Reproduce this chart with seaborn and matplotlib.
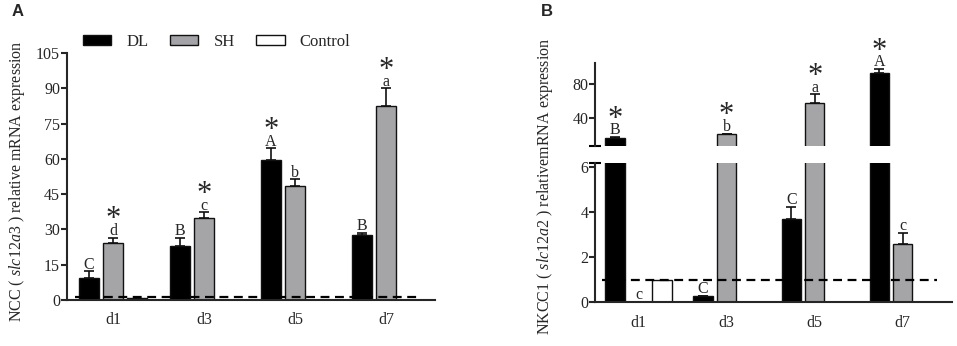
import numpy as np
import pandas as pd
import matplotlib
matplotlib.use("Agg")
import matplotlib.pyplot as plt
from matplotlib.patches import Patch
import seaborn as sns

# categories / groups
days = ["d1", "d3", "d5", "d7"]
groups = ["DL", "SH", "Control"]
colors = {"DL": "#000000", "SH": "#a4a4a8", "Control": "#ffffff"}

# panel A: NCC (slc12a3)
ncc_dl = [9.3, 23.1, 59.7, 27.5]
ncc_dl_err = [2.9, 3.4, 4.7, 0.9]
ncc_sh = [24.4, 34.9, 48.5, 82.3]
ncc_sh_err = [2.1, 2.3, 2.8, 7.6]
ncc_ctrl = 1.0
ncc_dl_letters = ["C", "B", "A", "B"]
ncc_sh_letters = ["d", "c", "b", "a"]
ncc_dl_star = [False, False, True, False]
ncc_sh_star = [True, True, False, True]
ncc_ticks = [0, 15, 30, 45, 60, 75, 90, 105]

# panel B: NKCC1 (slc12a2)
nkcc_dl = [17.3, 0.25, 3.69, 93.7]
nkcc_dl_err = [0.5, 0.03, 0.56, 3.9]
nkcc_sh = [0.02, 21.2, 57.6, 2.61]
nkcc_sh_err = [0.0, 0.6, 10.6, 0.48]
nkcc_ctrl = 1.0
nkcc_dl_letters = ["B", "C", "C", "A"]
nkcc_sh_letters = ["c", "b", "a", "c"]
nkcc_dl_star = [True, False, False, True]
nkcc_sh_star = [False, True, True, False]
nkcc_ticks_low = [0, 2, 4, 6]
nkcc_ticks_high = [40, 80]


def make_df(dl, dle, dlt, dls, sh, she, sht, shs, ctrl):
    rows = []
    for i, d in enumerate(days):
        rows.append([d, "DL", dl[i], dle[i], dlt[i], dls[i]])
        rows.append([d, "SH", sh[i], she[i], sht[i], shs[i]])
    rows.append(["d1", "Control", ctrl, 0.0, "", False])
    return pd.DataFrame(rows, columns=["day", "group", "value", "err", "letter", "star"])


df_a = make_df(ncc_dl, ncc_dl_err, ncc_dl_letters, ncc_dl_star,
               ncc_sh, ncc_sh_err, ncc_sh_letters, ncc_sh_star, ncc_ctrl)
df_b = make_df(nkcc_dl, nkcc_dl_err, nkcc_dl_letters, nkcc_dl_star,
               nkcc_sh, nkcc_sh_err, nkcc_sh_letters, nkcc_sh_star, nkcc_ctrl)

sns.set_style("ticks")
plt.rcParams["font.family"] = ["Liberation Serif", "DejaVu Serif"]
plt.rcParams["mathtext.fontset"] = "custom"
plt.rcParams["mathtext.rm"] = "Liberation Serif"
plt.rcParams["mathtext.it"] = "Liberation Serif:italic"

fig = plt.figure(figsize=(9.57, 3.46), dpi=100)
ax_a = fig.add_axes([0.070, 0.133, 0.385, 0.714])
ax_bt = fig.add_axes([0.622, 0.578, 0.373, 0.240])
ax_bb = fig.add_axes([0.622, 0.127, 0.373, 0.402])


def draw_bars(ax, df):
    sns.barplot(data=df, x="day", y="value", hue="group", order=days,
                hue_order=groups, palette=colors, edgecolor="#111111",
                linewidth=1.0, gap=0.18, errorbar=None, legend=False, ax=ax)
    info = []
    for p in ax.patches:
        xc = p.get_x() + p.get_width() / 2
        h = p.get_height()
        cat = days[int(round(xc))]
        row = df[(df["day"] == cat) & np.isclose(df["value"], h)].iloc[0]
        info.append((xc, h, row))
        if row["err"] > 0:
            ax.errorbar(xc, h, yerr=[[0], [row["err"]]], fmt="none",
                        ecolor="#111111", elinewidth=1.2, capsize=3.5,
                        capthick=1.2, zorder=3)
    return info


def annotate(ax, xc, top, letter, star):
    if letter:
        ax.annotate(letter, (xc, top), xytext=(0, 2), textcoords="offset points",
                    ha="center", va="baseline", fontsize=11.5)
    if star:
        ax.annotate("*", (xc, top), xytext=(0, 7.5), textcoords="offset points",
                    ha="center", va="baseline", fontsize=22)


def style_axis(ax):
    sns.despine(ax=ax)
    for s in ["left", "bottom"]:
        ax.spines[s].set_linewidth(1.5)
    ax.tick_params(axis="y", length=4, width=1.5, labelsize=11.5, pad=1)
    ax.tick_params(axis="x", length=0, labelsize=11.5, pad=9)
    ax.set_xlabel("")
    ax.set_ylabel("")


# ---- panel A
info = draw_bars(ax_a, df_a)
ax_a.set_xlim(-0.505, 3.54)
ax_a.set_ylim(0, 105)
ax_a.set_yticks(ncc_ticks)
style_axis(ax_a)
ax_a.hlines(1.3, -0.42, 3.37, colors="black", linestyles=(0, (4, 2.5)),
            linewidth=1.6, zorder=4)
for xc, h, row in info:
    annotate(ax_a, xc, h + row["err"], row["letter"], row["star"])

handles = [Patch(facecolor=colors[g], edgecolor="#111111", linewidth=1.0) for g in groups]
fig.legend(handles, groups, loc="center left", bbox_to_anchor=(83 / 957, 1 - 42 / 346),
           ncol=3, frameon=False, fontsize=12, handlelength=1.7, handleheight=0.6,
           handletextpad=0.9, columnspacing=1.3, borderpad=0, borderaxespad=0)

fig.text(17 / 957, 1 - 181 / 346, "NCC ( $\\mathit{slc12a3}$ ) relative mRNA expression",
         rotation=90, ha="center", va="center", fontsize=11.5)
fig.text(18 / 957, 1 - 12 / 346, "A", fontsize=12, fontweight="bold",
         family="Liberation Sans", ha="center", va="center")

# ---- panel B (broken axis)
info_t = draw_bars(ax_bt, df_b)
info_b = draw_bars(ax_bb, df_b)
low_max = 6.2
ax_bt.set_ylim(7.5, 105)
ax_bb.set_ylim(0, low_max)
for ax in (ax_bt, ax_bb):
    ax.set_xlim(-0.49, 3.56)
    style_axis(ax)
ax_bt.set_yticks(nkcc_ticks_high)
ax_bb.set_yticks(nkcc_ticks_low)
ax_bt.spines["bottom"].set_visible(False)
ax_bt.tick_params(axis="x", bottom=False, labelbottom=False)
# break marks on the y axis
ax_bt.plot([0], [0], marker="_", markersize=9, mew=1.5, color="black",
           transform=ax_bt.transAxes, clip_on=False)
ax_bb.plot([0], [1], marker="_", markersize=9, mew=1.5, color="black",
           transform=ax_bb.transAxes, clip_on=False)
ax_bb.hlines(1.0, -0.41, 3.39, colors="black", linestyles=(0, (4, 2.5)),
             linewidth=1.6, zorder=4)
for xc, h, row in info_b:
    top = h + row["err"]
    target = ax_bb if top < low_max else ax_bt
    annotate(target, xc, top, row["letter"], row["star"])

fig.text(545 / 957, 1 - 186 / 346, "NKCC1 ( $\\mathit{slc12a2}$ ) relativemRNA expression",
         rotation=90, ha="center", va="center", fontsize=11.5)
fig.text(547 / 957, 1 - 12 / 346, "B", fontsize=12, fontweight="bold",
         family="Liberation Sans", ha="center", va="center")

fig.savefig("out.png", dpi=100)
